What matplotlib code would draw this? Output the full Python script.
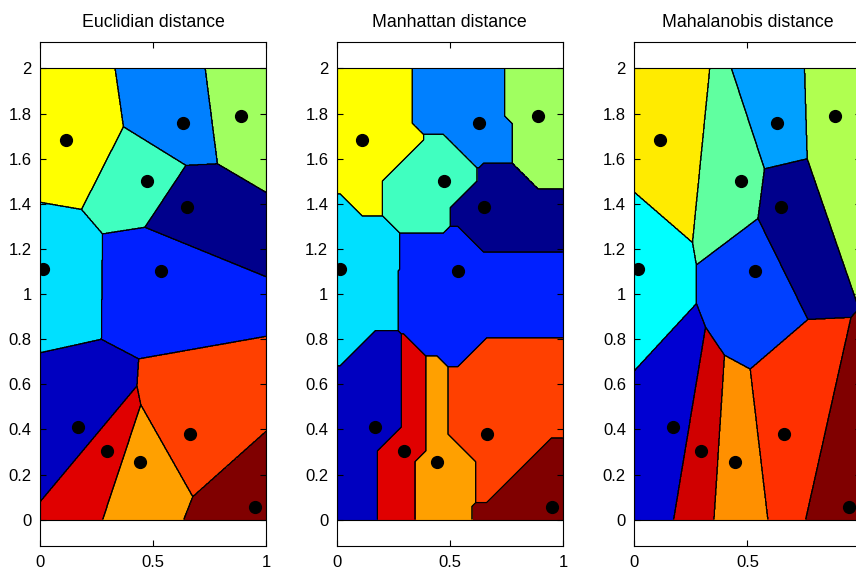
import numpy as np
import matplotlib
matplotlib.use("Agg")
import matplotlib.pyplot as plt
from matplotlib.colors import ListedColormap
from matplotlib.patches import Rectangle
from matplotlib.ticker import FormatStrFormatter

plt.rcParams['font.family'] = ['Liberation Sans', 'DejaVu Sans']

# seed points
seed_x = [0.114, 0.630, 0.888, 0.472, 0.649, 0.015, 0.534, 0.170, 0.296, 0.444, 0.662, 0.950]
seed_y = [1.682, 1.756, 1.789, 1.501, 1.384, 1.109, 1.103, 0.411, 0.306, 0.257, 0.380, 0.058]

titles = ['Euclidian distance', 'Manhattan distance', 'Mahalanobis distance']

# region colours, one per seed
colors_std = ['#ffff00', '#0080ff', '#a0ff60', '#40ffc0', '#00008c', '#00e0ff',
              '#0020ff', '#0000c0', '#e00000', '#ffa000', '#ff4000', '#800000']
colors_mah = ['#ffeb00', '#00a0ff', '#b0ff50', '#60ffa0', '#00008c', '#00ffff',
              '#0040ff', '#0000d2', '#d00000', '#ff9000', '#ff3000', '#800000']

xlim = (0, 1)
ylim = (0, 2)

nx, ny = 500, 1000
gx = xlim[0] + (np.arange(nx) + 0.5) / nx * (xlim[1] - xlim[0])
gy = ylim[0] + (np.arange(ny) + 0.5) / ny * (ylim[1] - ylim[0])
X, Y = np.meshgrid(gx, gy)

sx = np.array(seed_x)
sy = np.array(seed_y)
dx = X[..., None] - sx
dy = Y[..., None] - sy

C = np.cov(sx, sy)
Ci = np.linalg.inv(C)

d_euc = dx**2 + dy**2
d_man = np.abs(dx) + np.abs(dy)
d_mah = Ci[0, 0]*dx**2 + 2*Ci[0, 1]*dx*dy + Ci[1, 1]*dy**2

labels = [np.argmin(d_euc, axis=2), np.argmin(d_man, axis=2), np.argmin(d_mah, axis=2)]
cols = [colors_std, colors_std, colors_mah]

fig = plt.figure(figsize=(8.56, 5.70), dpi=100)
W, H = 856., 570.
lefts = [40.0, 336.7, 634.3]
bot = 546.3
top = 42.0
w = 226.3

for i in range(3):
    ax = fig.add_axes([lefts[i]/W, (H-bot)/H, w/W, (bot-top)/H])
    lab = labels[i]
    ax.imshow(lab, extent=(xlim[0], xlim[1], ylim[0], ylim[1]), origin='lower',
              cmap=ListedColormap(cols[i]), vmin=-0.5, vmax=11.5,
              interpolation='nearest', aspect='auto')
    for k in range(len(seed_x)):
        m = (lab == k).astype(float)
        if m.any():
            ax.contour(X, Y, m, levels=[0.5], colors='k', linewidths=0.8)
    ax.add_patch(Rectangle((xlim[0], ylim[0]), xlim[1]-xlim[0], ylim[1]-ylim[0],
                           fill=False, ec='k', lw=0.8))
    ax.plot(seed_x, seed_y, 'o', color='k', markersize=8.5)
    ax.set_xlim(0, 1)
    ax.set_ylim(-0.118, 2.117)
    ax.set_xticks([0, 0.5, 1])
    ax.set_yticks(np.arange(0, 2.01, 0.2))
    ax.xaxis.set_major_formatter(FormatStrFormatter('%g'))
    ax.yaxis.set_major_formatter(FormatStrFormatter('%g'))
    ax.tick_params(direction='in', top=True, right=True, length=4, width=0.8,
                   labelsize=12, pad=6)
    ax.tick_params(axis='x', pad=6)
    for s in ax.spines.values():
        s.set_linewidth(0.8)
    ax.set_title(titles[i], fontsize=12.8, pad=11)

fig.savefig('out.png', dpi=100)
